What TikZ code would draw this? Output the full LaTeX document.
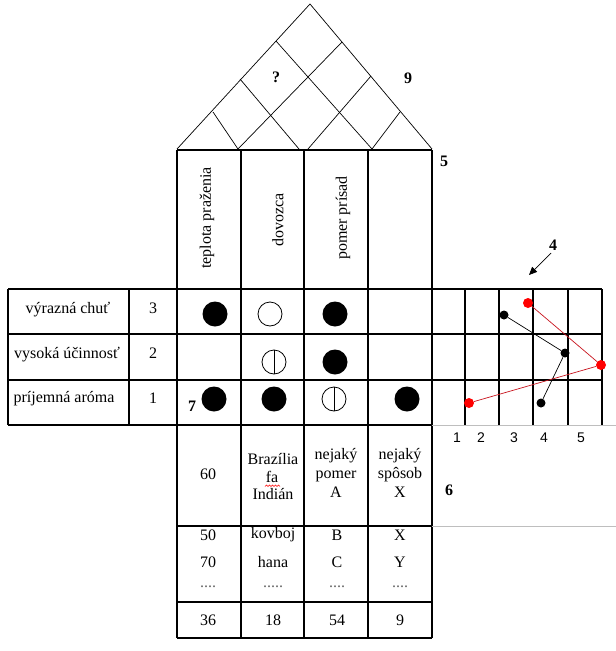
\documentclass[tikz,border=0pt]{standalone}
\usepackage{fontspec}
\setmainfont{Liberation Serif}
\newfontfamily\arialfont{Liberation Sans}
\usetikzlibrary{arrows.meta}
\definecolor{lgray}{RGB}{190,190,190}
\definecolor{dred}{RGB}{200,20,30}
\begin{document}
\begin{tikzpicture}[x=1pt,y=-1pt,
  gridline/.style={line width=1.1pt,black},
  greyline/.style={line width=1pt,lgray},
  roofline/.style={line width=0.7pt,black},
  lbl/.style={font=\fontsize{16}{19}\selectfont,inner sep=0pt,align=center},
  blbl/.style={font=\fontsize{16}{19}\selectfont\bfseries,inner sep=0pt},
  axl/.style={font=\arialfont\fontsize{14}{16}\selectfont,inner sep=0pt},
  dotl/.style={lbl,text=black!60},
  fullc/.style={circle,fill=black,minimum size=25pt,inner sep=0pt},
  emptyc/.style={circle,draw,line width=0.8pt,minimum size=24pt,inner sep=0pt},
  halfc/.style={emptyc,path picture={\draw[line width=0.8pt] (path picture bounding box.north) -- (path picture bounding box.south);}},
  bdot/.style={circle,fill=black,minimum size=9pt,inner sep=0pt},
  rdot/.style={circle,fill=red,minimum size=10pt,inner sep=0pt}
]
\useasboundingbox (0,0) rectangle (616,651);
% roof
\draw[roofline] (177,149) -- (310,4) -- (432,149);
\draw[roofline] (213,112) -- (238,149);
\draw[roofline] (240,79) -- (299,149);
\draw[roofline] (276,41) -- (372,149);
\draw[roofline] (238,149) -- (342,42);
\draw[roofline] (308,149) -- (371,76);
\draw[roofline] (372,149) -- (400,112);
% main grid
\draw[gridline] (177,150) -- (432,150);
\foreach \x in {177,241,304,368,432} \draw[gridline] (\x,150) -- (\x,638);
\foreach \y in {289,334,380} \draw[gridline] (8,\y) -- (602,\y);
\draw[gridline] (8,425) -- (432,425);
\draw[greyline] (432,425) -- (616,425);
\draw[gridline] (177,526) -- (432,526);
\draw[greyline] (432,526) -- (616,526);
\draw[gridline] (177,602) -- (432,602);
\draw[gridline] (177,638) -- (432,638);
\foreach \x in {8,129} \draw[gridline] (\x,289) -- (\x,425);
\foreach \x in {465,499,533,568,602} \draw[gridline] (\x,289) -- (\x,425);
% roof labels
\node[blbl] (q) at (276,77) {?};
\node[blbl] (n9) at (408,78) {9};
\node[blbl] (n5) at (444,161) {5};
\node[blbl] (n6) at (449,490) {6};
\node[blbl] (n7) at (192,406) {7};
% header
\node[lbl,rotate=90] (h1) at (207,218) {teplota praženia};
\node[lbl,rotate=90] (h2) at (278,220) {dovozca};
\node[lbl,rotate=90] (h3) at (343,218) {pomer prísad};
% left table
\node[lbl] (r1) at (68,310) {výrazná chuť};
\node[lbl] (r2) at (67,355) {vysoká účinnosť};
\node[lbl] (r3) at (64,399) {príjemná aróma};
\node[lbl] (w1) at (153,308) {3};
\node[lbl] (w2) at (153,353) {2};
\node[lbl] (w3) at (153,398) {1};
% matrix symbols
\node[fullc] (c11) at (215,314) {};
\node[emptyc] (c12) at (270,314) {};
\node[fullc] (c13) at (335,314) {};
\node[halfc] (c22) at (274,362) {};
\node[fullc] (c23) at (335,362) {};
\node[fullc] (c31) at (214,399) {};
\node[fullc] (c32) at (274,399) {};
\node[halfc] (c33) at (334,399) {};
\node[fullc] (c34) at (407,399) {};
% bottom
\node[lbl] (b1) at (208,474) {60};
\node[lbl] (b2a) at (273,459) {Brazília};
\node[lbl,anchor=base] (b2b) at (272,482) {fa};
\node[lbl] (b2c) at (273,494) {Indián};
\draw[red,line width=0.5pt] (265,486.5) -- (266.5,485) -- (268,486.5) -- (269.5,485) -- (271,486.5) -- (272.5,485) -- (274,486.5) -- (275.5,485) -- (277,486.5) -- (278.5,485) -- (280,486.5);
\node[lbl] (b3) at (336,473) {nejaký\\pomer\\A};
\node[lbl] (b4) at (400,473) {nejaký\\spôsob\\X};
\foreach \xx/\t/\n in {208/50/a,273/kovboj/b,337/B/c,400/X/d} \node[lbl] (l1\n) at (\xx,535) {\t};
\foreach \xx/\t/\n in {208/70/a,273/hana/b,337/C/c,400/Y/d} \node[lbl] (l2\n) at (\xx,562) {\t};
\node[dotl] (l3a) at (208,587) {....};
\node[dotl] (l3b) at (273,587) {.....};
\node[dotl] (l3c) at (337,587) {....};
\node[dotl] (l3d) at (400,587) {....};
\foreach \xx/\t/\n in {208/36/a,273/18/b,337/54/c,400/9/d} \node[lbl] (s\n) at (\xx,620) {\t};
% chart axis
\foreach \xx/\t in {457/1,481/2,514/3,544/4,581/5} \node[axl] (ax\t) at (\xx,438) {\t};
% chart
\node[bdot] (k1) at (504,315) {};
\node[bdot] (k2) at (565,353) {};
\node[bdot] (k3) at (541,403) {};
\node[rdot] (p1) at (528,303) {};
\node[rdot] (p2) at (601,365) {};
\node[rdot] (p3) at (469,403) {};
\draw[line width=0.7pt] (k1) -- (k2) -- (k3);
\draw[dred,line width=0.7pt] (p1) -- (p2) -- (p3);
% arrow 4
\node[blbl] (n4) at (553,245) {4};
\coordinate (a4) at (529,275);
\draw[line width=0.7pt,-{Triangle[length=8pt,width=7pt]}] (551,253) -- (a4);
\end{tikzpicture}
\end{document}
